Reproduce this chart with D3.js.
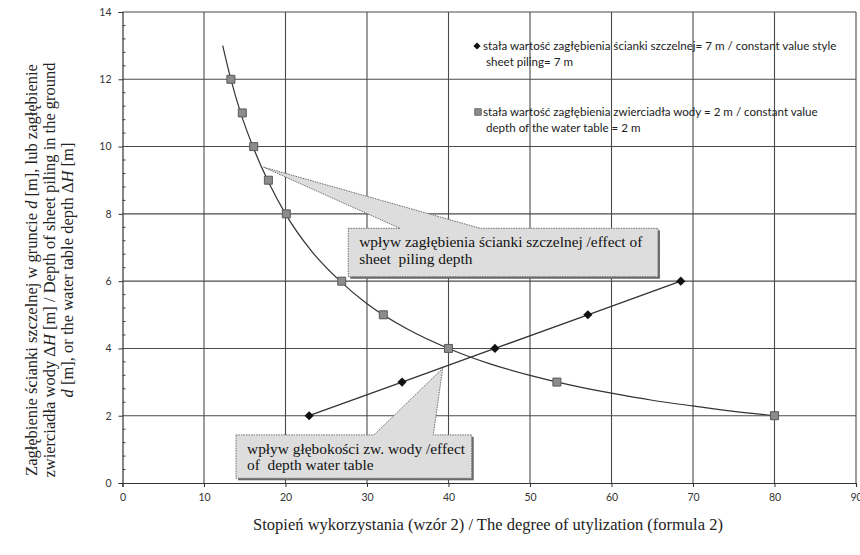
<!DOCTYPE html>
<html>
<head>
<meta charset="utf-8">
<script src="https://cdn.jsdelivr.net/npm/d3@7"></script>
<style>
  body { margin: 0; background: #fff; }
  text { white-space: pre; }
</style>
</head>
<body>
<div id="chart"></div>
<script>
// series: constant sheet piling depth = 7 m (diamonds)
const sheetX = [22.9, 34.3, 45.7, 57.1, 68.5];
const sheetY = [2, 3, 4, 5, 6];

// series: constant water table depth = 2 m (squares)
const waterX = [13.3, 14.7, 16.1, 17.9, 20.1, 26.9, 32.0, 40.0, 53.3, 80.0];
const waterY = [12, 11, 10, 9, 8, 6, 5, 4, 3, 2];

// trend curve drawn through the squares
const trendX = [12.3, 13.3, 14.5, 16, 18, 20, 23, 26.7, 30, 35, 40, 45, 50, 55, 60, 65, 70, 75, 80];
const trendY = [13, 12, 11, 10, 8.9, 8, 6.95, 6, 5.33, 4.57, 4, 3.55, 3.2, 2.91, 2.67, 2.46, 2.29, 2.13, 2.0];

const xTicks = [0, 10, 20, 30, 40, 50, 60, 70, 80, 90];
const yTicks = [0, 2, 4, 6, 8, 10, 12, 14];

const legendLabels = [
  ["stała wartość zagłębienia ścianki szczelnej= 7 m / constant value style", "sheet piling= 7 m"],
  ["stała wartość zagłębienia zwierciadła wody = 2 m / constant value", "depth of the water table = 2 m"]
];

// callouts in data units: box corners, wedge base and tip
const callouts = [
  { x0: 27.7, x1: 65.7, y0: 7.57, y1: 6.13, b0: 34.05, b1: 43.9, tx: 17.28, ty: 9.39,
    lines: ["wpływ zagłębienia ścianki szczelnej /effect of", "sheet  piling depth"] },
  { x0: 13.93, x1: 42.85, y0: 1.43, y1: 0.14, b0: 30.86, b1: 38.13, tx: 39.29, ty: 3.41,
    lines: ["wpływ głębokości zw. wody /effect", "of  depth water table"] }
];

const width = 860, height = 555;
const x = d3.scaleLinear([0, 90], [122.5, 856]);
const y = d3.scaleLinear([0, 14], [483, 12]);

const svg = d3.select("#chart").append("svg")
  .attr("width", width)
  .attr("height", height)
  .style("background", "#fff");

const gridColor = "#4a4a4a";
const sans = "Lato, 'Open Sans', sans-serif";
const serif = "'Liberation Serif', 'DejaVu Serif', serif";

//grid
svg.append("g").selectAll("line")
  .data(xTicks.slice(1))
  .join("line")
  .attr("x1", d => x(d)).attr("x2", d => x(d))
  .attr("y1", y(0)).attr("y2", y(14))
  .attr("stroke", gridColor).attr("stroke-width", 1.1);

svg.append("g").selectAll("line")
  .data(yTicks.slice(1))
  .join("line")
  .attr("x1", x(0)).attr("x2", x(90))
  .attr("y1", d => y(d)).attr("y2", d => y(d))
  .attr("stroke", gridColor).attr("stroke-width", 1.1);

//axes
const xAxis = svg.append("g")
  .attr("transform", `translate(0,${y(0)})`)
  .call(d3.axisBottom(x).tickValues(xTicks).tickSize(4).tickPadding(7));
const yAxis = svg.append("g")
  .attr("transform", `translate(${x(0)},0)`)
  .call(d3.axisLeft(y).tickValues(yTicks).tickSize(4).tickPadding(7));

[xAxis, yAxis].forEach(g => {
  g.select(".domain").attr("stroke", "#333").attr("stroke-width", 1.2);
  g.selectAll(".tick line").attr("stroke", "#333");
  g.selectAll("text").attr("font-family", sans).attr("font-size", 10.5).attr("fill", "#333");
});

// minor ticks on y axis every 0.4
svg.append("g").selectAll("line")
  .data(d3.range(0, 14.01, 0.4).filter(d => Math.abs(d / 2 - Math.round(d / 2)) > 0.01))
  .join("line")
  .attr("x1", x(0)).attr("x2", x(0) + 3)
  .attr("y1", d => y(d)).attr("y2", d => y(d))
  .attr("stroke", "#444");

//callouts
callouts.forEach(c => {
  svg.append("rect")
    .attr("x", x(c.x0) + 2).attr("y", y(c.y0) + 2)
    .attr("width", x(c.x1) - x(c.x0)).attr("height", y(c.y1) - y(c.y0))
    .attr("fill", "#6a6a6a");

  const p = d3.path();
  p.moveTo(x(c.x0), y(c.y0));
  p.lineTo(x(c.b0), y(c.y0));
  p.lineTo(x(c.tx), y(c.ty));
  p.lineTo(x(c.b1), y(c.y0));
  p.lineTo(x(c.x1), y(c.y0));
  p.lineTo(x(c.x1), y(c.y1));
  p.lineTo(x(c.x0), y(c.y1));
  p.closePath();

  svg.append("path")
    .attr("d", p.toString())
    .attr("fill", "#dddddd")
    .attr("stroke", "#6f6f6f")
    .attr("stroke-width", 1)
    .attr("stroke-dasharray", "1.5,1");

  svg.append("g").selectAll("text")
    .data(c.lines)
    .join("text")
    .attr("x", x(c.x0) + 11)
    .attr("y", (d, i) => y(c.y0) + 19 + i * 16.5)
    .attr("font-family", serif)
    .attr("font-size", 15.4)
    .attr("fill", "#111")
    .text(d => d);
});

//trend curve
const line = d3.line()
  .x(d => x(d[0]))
  .y(d => y(d[1]))
  .curve(d3.curveMonotoneX);

svg.append("path")
  .datum(d3.zip(trendX, trendY))
  .attr("d", line)
  .attr("fill", "none")
  .attr("stroke", "#333")
  .attr("stroke-width", 1.2);

svg.append("path")
  .datum(d3.zip(sheetX, sheetY))
  .attr("d", d3.line().x(d => x(d[0])).y(d => y(d[1])))
  .attr("fill", "none")
  .attr("stroke", "#333")
  .attr("stroke-width", 1.3);

//markers
const square = d3.symbol(d3.symbolSquare, 64);
const diamond = d3.symbol(d3.symbolSquare, 42);

svg.append("g").selectAll("path")
  .data(d3.zip(waterX, waterY))
  .join("path")
  .attr("d", square)
  .attr("transform", d => `translate(${x(d[0])},${y(d[1])})`)
  .attr("fill", "#8c8c8c")
  .attr("stroke", "#5a5a5a")
  .attr("stroke-width", 1);

svg.append("g").selectAll("path")
  .data(d3.zip(sheetX, sheetY))
  .join("path")
  .attr("d", diamond)
  .attr("transform", d => `translate(${x(d[0])},${y(d[1])}) rotate(45)`)
  .attr("fill", "#111");

//legend
const legend = svg.append("g");
legend.append("path")
  .attr("d", d3.symbol(d3.symbolSquare, 26))
  .attr("transform", "translate(477,46) rotate(45)")
  .attr("fill", "#111");
legend.append("path")
  .attr("d", d3.symbol(d3.symbolSquare, 42))
  .attr("transform", "translate(478,112)")
  .attr("fill", "#8c8c8c")
  .attr("stroke", "#6a6a6a");

legendLabels.forEach((lines, k) => {
  legend.append("g").selectAll("text")
    .data(lines)
    .join("text")
    .attr("x", (d, i) => i === 0 ? 483 : 486)
    .attr("y", (d, i) => (k === 0 ? 50 : 116) + i * 16)
    .attr("font-family", sans)
    .attr("font-size", 11.6)
    .attr("fill", "#222")
    .text(d => d);
});

//axis titles
svg.append("text")
  .attr("x", 488)
  .attr("y", 530)
  .attr("text-anchor", "middle")
  .attr("font-family", serif)
  .attr("font-size", 16.5)
  .attr("fill", "#222")
  .text("Stopień wykorzystania (wzór 2) / The degree of utylization (formula 2)");

const yTitle = svg.append("text")
  .attr("transform", "translate(0,270) rotate(-90)")
  .attr("text-anchor", "middle")
  .attr("font-family", serif)
  .attr("font-size", 16.5)
  .attr("fill", "#222");

const yLines = [
  ["Zagłębienie ścianki szczelnej w gruncie ", ["d"], " [m], lub zagłębienie"],
  ["zwierciadła wody Δ", ["H"], " [m] / Depth of sheet piling in the ground"],
  ["", ["d"], " [m], or the water table depth Δ", ["H"], " [m]"]
];
yLines.forEach((parts, i) => {
  const t = yTitle.append("tspan").attr("x", 0).attr("y", 37 + i * 18);
  parts.forEach(p => {
    if (Array.isArray(p)) t.append("tspan").attr("font-style", "italic").text(p[0]);
    else if (p) t.append("tspan").text(p);
  });
});
</script>
</body>
</html>
